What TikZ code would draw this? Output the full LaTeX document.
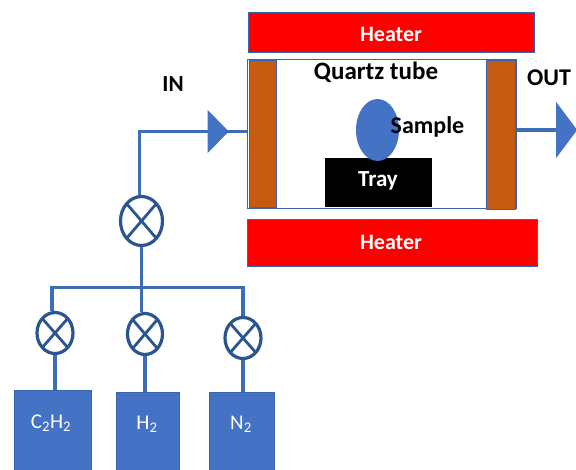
\documentclass[tikz,border=0pt]{standalone}
\usepackage{fontspec}
\setmainfont{Carlito}
\usetikzlibrary{shapes.geometric}
\definecolor{pipe}{HTML}{3E6DB8}
\definecolor{valveline}{HTML}{2A5590}
\definecolor{fillblue}{HTML}{4472C4}
\definecolor{edgeblue}{HTML}{3A64AC}
\definecolor{brownwall}{HTML}{C55A11}
\tikzset{
  heater/.style={draw=edgeblue,line width=0.8pt,fill=red,inner sep=0pt},
  wall/.style={draw=edgeblue,line width=0.8pt,fill=brownwall,inner sep=0pt},
  tank/.style={fill=fillblue,draw=edgeblue,line width=0.6pt,inner sep=0pt},
  valve/.style={ellipse,draw=valveline,line width=3.2pt,fill=white,inner sep=0pt,
    path picture={\draw[valveline,line width=2.8pt]
      (path picture bounding box.north west)--(path picture bounding box.south east)
      (path picture bounding box.north east)--(path picture bounding box.south west);}},
  pipeline/.style={draw=pipe,line width=3.4pt},
  flowtip/.style={isosceles triangle,isosceles triangle stretches,fill=fillblue,inner sep=0pt,
    outer sep=0pt,shape border rotate=0},
  blacklabel/.style={inner sep=0pt,text=black,font=\fontsize{#1}{26}\selectfont\bfseries},
  whitelabel/.style={inner sep=0pt,text=white,font=\fontsize{#1}{26}\selectfont\bfseries},
  tanklabel/.style={inner sep=0pt,text=white,font=\fontsize{21}{26}\selectfont}
}
\begin{document}
\begin{tikzpicture}[x=1pt,y=-1pt]
\useasboundingbox (0,0) rectangle (576,469);
% furnace
\node[heater,minimum width=286pt,minimum height=40pt] (heatertop) at (391,32) {};
\node[heater,minimum width=290pt,minimum height=47pt] (heaterbot) at (392,242.5) {};
\node[whitelabel=22] (heatertoptext) at (391,34) {Heater};
\node[whitelabel=22] (heaterbottext) at (391,242) {Heater};
\node[draw=edgeblue,line width=1pt,fill=white,inner sep=0pt,minimum width=269pt,minimum height=149pt] (tube) at (381.5,133.5) {};
\node[wall,minimum width=27pt,minimum height=147pt] (wallL) at (262.5,133.5) {};
\node[wall,minimum width=29pt,minimum height=149pt] (wallR) at (500.5,134.5) {};
\node[fill=black,inner sep=0pt,minimum width=107pt,minimum height=49pt] (tray) at (378.5,182.5) {};
\node[ellipse,fill=fillblue,inner sep=0pt,minimum width=43pt,minimum height=62pt] (sample) at (377.5,130) {};
\node[whitelabel=23] (traytext) at (378,181) {Tray};
\node[blacklabel=25] (quartz) at (376,72) {Quartz tube};
\node[blacklabel=24] (samplet) at (427.5,127) {Sample};
\node[blacklabel=23] (intext) at (173,84) {IN};
\node[blacklabel=24] (outtext) at (549,78) {OUT};
% valves and tanks
\node[valve,minimum width=42pt,minimum height=49pt] (v0) at (141.5,221) {};
\node[valve,minimum width=36pt,minimum height=41pt] (v1) at (55,333) {};
\node[valve,minimum width=35pt,minimum height=41pt] (v2) at (145,334) {};
\node[valve,minimum width=36pt,minimum height=41pt] (v3) at (243,338) {};
\node[tank,minimum width=77pt,minimum height=85pt,anchor=north west] (t1) at (14,390) {};
\node[tank,minimum width=63pt,minimum height=83pt,anchor=north west] (t2) at (116,392) {};
\node[tank,minimum width=65pt,minimum height=83pt,anchor=north west] (t3) at (209,392) {};
\node[tanklabel] (t1text) at (51,423) {C\textsubscript{2}H\textsubscript{2}};
\node[tanklabel] (t2text) at (147,424) {H\textsubscript{2}};
\node[tanklabel] (t3text) at (241,424) {N\textsubscript{2}};
% flow arrows
\node[flowtip,minimum width=43pt,minimum height=21pt] (inarrow) at (216.5,131.5) {};
\node[flowtip,minimum width=56pt,minimum height=21pt] (outarrow) at (565.5,130) {};
% bus
\coordinate (busL) at (52,287.5);
\coordinate (busR) at (243,287.5);
\coordinate (busM) at (141.5,287.5);
\draw[pipeline,line cap=rect] (busL) -- (busR);
\draw[pipeline] (v0.south) -- (busM);
\draw[pipeline] (busM) -- (busM |- v2.north);
\draw[pipeline] (busL) -- (busL |- v1.north);
\draw[pipeline] (busR) -- (v3.north);
\draw[pipeline] (v1.south) -- (v1.south |- t1.north);
\draw[pipeline] (v2.south) -- (v2.south |- t2.north);
\draw[pipeline] (v3.south) -- (v3.south |- t3.north);
\draw[pipeline] (v0.north) ++(-2,0) |- (inarrow.west);
\draw[pipeline] (inarrow.apex) ++(-4,0) -- (inarrow.apex -| tube.west);
\draw[pipeline] (outarrow.west -| tube.east) -- (outarrow.west);
\end{tikzpicture}
\end{document}
